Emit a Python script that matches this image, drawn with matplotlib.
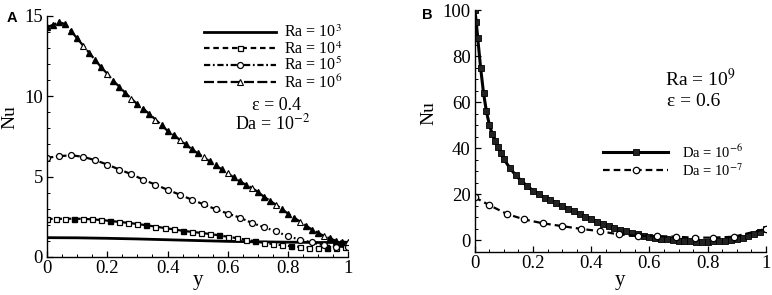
import matplotlib
matplotlib.use("Agg")
import matplotlib.pyplot as plt
from matplotlib.ticker import MultipleLocator

plt.rcParams['font.family'] = ['Liberation Serif', 'DejaVu Serif']
plt.rcParams['mathtext.fontset'] = 'stix'

# ---- panel A data (Nu vs y, eps = 0.4, Da = 1e-2) ----
y_ra3 = [0.0, 0.1, 0.2, 0.3, 0.4, 0.5, 0.6, 0.7, 0.8, 0.9, 1.0]
nu_ra3 = [1.2, 1.19, 1.16, 1.12, 1.07, 1.02, 0.97, 0.94, 0.92, 0.9, 0.9]

y_ra4 = [0.0, 0.03, 0.06, 0.09, 0.12, 0.15, 0.18, 0.21, 0.24, 0.27, 0.30, 0.33,
         0.36, 0.39, 0.42, 0.45, 0.48, 0.51, 0.54, 0.57, 0.60, 0.63, 0.66, 0.69,
         0.72, 0.75, 0.78, 0.81, 0.84, 0.87, 0.90, 0.93, 0.96, 0.99]
nu_ra4 = [2.37, 2.37, 2.38, 2.38, 2.37, 2.34, 2.3, 2.24, 2.18, 2.12, 2.05, 1.97,
          1.89, 1.8, 1.72, 1.63, 1.56, 1.5, 1.43, 1.35, 1.26, 1.17, 1.08, 0.98,
          0.88, 0.8, 0.73, 0.67, 0.62, 0.58, 0.56, 0.55, 0.56, 0.6]

y_ra5 = [0.0, 0.04, 0.08, 0.12, 0.16, 0.20, 0.24, 0.28, 0.32, 0.36, 0.40, 0.44,
         0.48, 0.52, 0.56, 0.60, 0.64, 0.68, 0.72, 0.76, 0.80, 0.84, 0.88, 0.92,
         0.96, 1.0]
nu_ra5 = [6.17, 6.27, 6.33, 6.23, 6.02, 5.75, 5.44, 5.15, 4.8, 4.5, 4.18, 3.88,
          3.57, 3.27, 2.97, 2.7, 2.45, 2.12, 1.85, 1.6, 1.28, 1.08, 0.9, 0.72,
          0.65, 0.62]

y_ra6 = [0.0, 0.02, 0.04, 0.06, 0.08, 0.10, 0.12, 0.14, 0.16, 0.18, 0.20, 0.22,
         0.24, 0.26, 0.28, 0.30, 0.32, 0.34, 0.36, 0.38, 0.40, 0.42, 0.44, 0.46,
         0.48, 0.50, 0.52, 0.54, 0.56, 0.58, 0.60, 0.62, 0.64, 0.66, 0.68, 0.70,
         0.72, 0.74, 0.76, 0.78, 0.80, 0.82, 0.84, 0.86, 0.88, 0.90, 0.92, 0.94,
         0.96, 0.98, 1.0]
nu_ra6 = [14.3, 14.45, 14.6, 14.5, 14.05, 13.6, 13.15, 12.7, 12.25, 11.8, 11.4, 10.95,
          10.6, 10.2, 9.85, 9.5, 9.2, 8.9, 8.55, 8.2, 7.85, 7.6, 7.3, 7.0,
          6.72, 6.45, 6.2, 5.95, 5.7, 5.45, 5.2, 4.95, 4.7, 4.5, 4.3, 4.05,
          3.75, 3.5, 3.25, 2.97, 2.7, 2.45, 2.2, 1.95, 1.7, 1.5, 1.3, 1.15,
          1.0, 0.95, 0.92]

# ---- panel B data (Ra = 1e9, eps = 0.6) ----
y_da6 = [0.0, 0.005, 0.01, 0.02, 0.03, 0.04, 0.05, 0.06, 0.07, 0.08, 0.09, 0.10,
         0.12, 0.14, 0.16, 0.18, 0.20, 0.22, 0.24, 0.26, 0.28, 0.30, 0.32, 0.34,
         0.36, 0.38, 0.40, 0.42, 0.44, 0.46, 0.48, 0.50, 0.52, 0.54, 0.56, 0.58,
         0.60, 0.62, 0.64, 0.66, 0.68, 0.70, 0.72, 0.74, 0.76, 0.78, 0.80, 0.82,
         0.84, 0.86, 0.88, 0.90, 0.92, 0.94, 0.96, 0.98, 1.0]
nu_da6 = [100, 95, 88, 75, 64, 56, 50.2, 46.2, 43.2, 40.6, 38, 35.3,
          31.5, 28.4, 25.8, 23.6, 21.6, 20, 18.6, 17.5, 16.3, 15, 13.8, 12.6,
          11.4, 10.3, 9.3, 8.2, 7.2, 6.3, 5.4, 4.6, 3.9, 3.3, 2.7, 2.1,
          1.6, 1.1, 0.7, 0.4, 0.1, -0.1, -0.3, -0.4, -0.5, -0.5, -0.5, -0.4,
          -0.3, -0.1, 0.2, 0.6, 1.2, 1.8, 2.6, 3.7, 5.0]

y_da7 = [0.0, 0.05, 0.11, 0.17, 0.235, 0.30, 0.365, 0.43, 0.495, 0.56, 0.625,
         0.69, 0.755, 0.82, 0.89, 1.0]
nu_da7 = [18.7, 15.3, 11.5, 9.1, 7.4, 6.2, 5.0, 4.0, 2.6, 2.0, 1.9,
          1.6, 1.2, 1.2, 1.6, 5.0]

fig = plt.figure(figsize=(7.72, 2.95), dpi=100)
axA = fig.add_axes([0.061, 0.129, 0.39, 0.817])
axB = fig.add_axes([0.615, 0.146, 0.377, 0.82])


def style_axes(ax):
    for s in ['top', 'right']:
        ax.spines[s].set_visible(False)
    for s in ['left', 'bottom']:
        ax.spines[s].set_linewidth(1.0)
    ax.tick_params(which='both', direction='in', labelsize=13.5, top=False, right=False)
    ax.tick_params(which='major', length=4.3, width=0.9, pad=3)
    ax.tick_params(which='minor', length=2.2, width=0.7)
    ax.tick_params(axis='x', pad=2)
    ax.xaxis.set_major_locator(MultipleLocator(0.2))
    ax.xaxis.set_minor_locator(MultipleLocator(0.05))
    ax.xaxis.set_major_formatter(plt.FuncFormatter(lambda v, p: '%g' % round(v, 2)))


# ---- panel A ----
n6 = len(y_ra6)
hollow6 = list(range(6, n6, 4))
filled6 = [i for i in range(n6) if i not in hollow6]
n4 = len(y_ra4)
filled4 = list(range(3, n4, 4))
hollow4 = [i for i in range(n4) if i not in filled4]

axA.plot(y_ra3, nu_ra3, color='black', lw=2.0, label=r'Ra = 10$^3$')
axA.plot(y_ra4, nu_ra4, color='black', lw=1.6, ls=(0, (2.5, 1.7)), marker='s', ms=3.6,
         mfc='white', mec='black', mew=0.9, markevery=hollow4, label=r'Ra = 10$^4$')
axA.plot(y_ra4, nu_ra4, ls='none', marker='s', ms=3.6, mfc='black', mec='black',
         markevery=filled4)
axA.plot(y_ra5, nu_ra5, color='black', lw=1.6, ls=(0, (2.8, 1.2, 0.8, 1.2)), marker='o',
         ms=4.3, mfc='white', mec='black', mew=0.9, label=r'Ra = 10$^5$')
axA.plot(y_ra6, nu_ra6, color='black', lw=1.6, ls=(0, (4.5, 1.5)), marker='^', ms=4.6,
         mfc='white', mec='black', mew=0.8, markevery=hollow6, label=r'Ra = 10$^6$')
axA.plot(y_ra6, nu_ra6, ls='none', marker='^', ms=4.6, mfc='black', mec='black',
         markevery=filled6)

axA.set_xlim(0, 1)
axA.set_ylim(0, 15)
style_axes(axA)
axA.yaxis.set_major_locator(MultipleLocator(5))
axA.yaxis.set_minor_locator(MultipleLocator(1))
axA.set_ylabel('Nu', fontsize=14)
axA.set_xlabel('y', fontsize=15)
axA.yaxis.set_label_coords(-0.095, 0.58)
axA.xaxis.set_label_coords(0.5, -0.058)

axA.legend(loc='upper left', bbox_to_anchor=(0.52, 0.963), frameon=False, fontsize=11.5,
           handlelength=4.5, handletextpad=0.55, labelspacing=-0.03, numpoints=1,
           borderaxespad=0, borderpad=0)
axA.text(0.761, 0.627, 'ε = 0.4', transform=axA.transAxes, ha='center', va='center', fontsize=13)
axA.text(0.75, 0.553, r'Da = 10$^{-2}$', transform=axA.transAxes, ha='center', va='center', fontsize=13)

# ---- panel B ----
axB.plot(y_da6, nu_da6, color='black', lw=2.2, marker='s', ms=3.8, mfc='#222222', mec='black',
         mew=0.6, label=r'Da = 10$^{-6}$')
axB.plot(y_da7, nu_da7, color='black', lw=1.6, ls=(0, (3.0, 1.8)), marker='o', ms=4.6,
         mfc='white', mec='black', mew=0.9, label=r'Da = 10$^{-7}$')
axB.set_xlim(0, 1)
axB.set_ylim(-5, 100)
style_axes(axB)
axB.yaxis.set_major_locator(MultipleLocator(20))
axB.yaxis.set_minor_locator(MultipleLocator(5))
axB.set_ylabel('Nu', fontsize=14)
axB.set_xlabel('y', fontsize=15)
axB.yaxis.set_label_coords(-0.13, 0.574)
axB.xaxis.set_label_coords(0.5, -0.08)
axB.legend(loc='upper left', bbox_to_anchor=(0.44, 0.45), frameon=False, fontsize=10.5,
           handlelength=4.5, handletextpad=0.9, labelspacing=0.1, numpoints=1,
           borderaxespad=0, borderpad=0)
axB.text(0.773, 0.715, r'Ra = 10$^9$', transform=axB.transAxes, ha='center', va='center', fontsize=14)
axB.text(0.753, 0.622, 'ε = 0.6', transform=axB.transAxes, ha='center', va='center', fontsize=14)

# panel letters
fig.text(12 / 772, 1 - 18 / 295, 'A', ha='center', va='center', fontsize=10.5,
         fontweight='bold', family='Liberation Sans')
fig.text(427 / 772, 1 - 15 / 295, 'B', ha='center', va='center', fontsize=10.5,
         fontweight='bold', family='Liberation Sans')

fig.savefig('out.png', dpi=100)
